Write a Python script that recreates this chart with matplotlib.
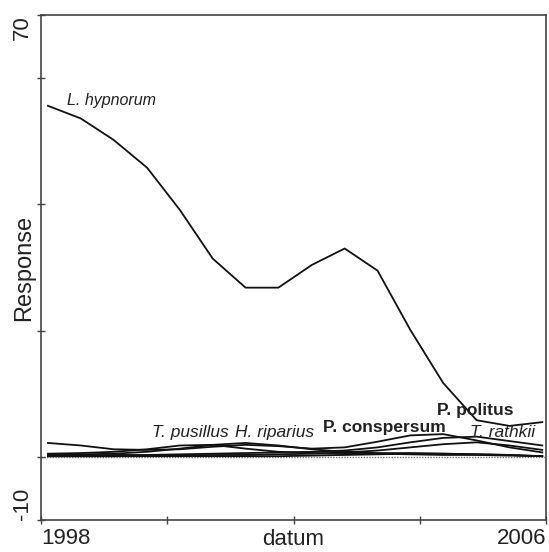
import matplotlib.pyplot as plt

plt.rcParams['font.family'] = ['Liberation Sans', 'DejaVu Sans']

# sampling dates (decimal years)
datum = [1998.11, 1998.63, 1999.15, 1999.68, 2000.20, 2000.72, 2001.24, 2001.76,
         2002.29, 2002.81, 2003.33, 2003.85, 2004.37, 2004.90, 2005.42, 2005.94]

# fitted responses per species
l_hypnorum = [55.6, 53.6, 50.2, 45.8, 39.1, 31.4, 26.8, 26.8,
              30.4, 33.0, 29.5, 20.1, 11.7, 5.8, 4.9, 5.5]
p_conspersum = [2.2, 1.8, 1.2, 1.1, 1.2, 1.6, 1.9, 1.7,
                1.3, 1.5, 2.4, 3.4, 3.6, 2.6, 1.5, 0.7]
t_pusillus = [0.5, 0.6, 0.8, 1.2, 1.8, 1.9, 1.3, 0.8,
              0.6, 0.5, 0.5, 0.4, 0.3, 0.3, 0.2, 0.1]
h_riparius = [0.3, 0.4, 0.5, 0.8, 1.3, 1.9, 2.2, 1.8,
              1.2, 0.8, 0.6, 0.6, 0.5, 0.4, 0.3, 0.1]
p_politus = [0.2, 0.2, 0.3, 0.3, 0.4, 0.5, 0.6, 0.7,
             0.8, 1.0, 1.5, 2.3, 3.0, 3.2, 2.5, 1.8]
t_rathkii = [0.1, 0.1, 0.1, 0.2, 0.2, 0.3, 0.3, 0.4,
             0.5, 0.7, 1.0, 1.5, 2.0, 2.3, 1.8, 1.1]
other = [0.1, 0.1, 0.1, 0.1, 0.1, 0.1, 0.1, 0.1,
         0.2, 0.3, 0.4, 0.5, 0.5, 0.4, 0.3, 0.1]

series = [l_hypnorum, p_conspersum, t_pusillus, h_riparius, p_politus, t_rathkii, other]

# species labels: (text, x, y, style, weight, size)
labels = [
    ("L. hypnorum", 1998.41, 56.5, "italic", "normal", 11.5),
    ("T. pusillus", 1999.76, 3.9, "italic", "normal", 12.5),
    ("H. riparius", 2001.07, 3.9, "italic", "normal", 12.5),
    ("P. conspersum", 2002.47, 4.7, "normal", "bold", 12.5),
    ("P. politus", 2004.28, 7.4, "normal", "bold", 12.5),
    ("T. rathkii", 2004.80, 3.9, "italic", "normal", 12.5),
]

fig = plt.figure(figsize=(5.49, 5.52), dpi=100)
ax = fig.add_axes([0.0747, 0.058, 0.92, 0.915])

ax.axhline(0, color="#777777", lw=1.0, ls=(0, (1, 1)), zorder=1)
for s in series:
    ax.plot(datum, s, color="#111111", lw=1.3, zorder=2)

for txt, x, y, st, wt, fs in labels:
    ax.text(x, y, txt, fontsize=fs, style=st, weight=wt, color="#222222",
            ha="left", va="center", zorder=3)

ax.set_xlim(1998, 2006)
ax.set_ylim(-10, 70)

ax.set_xticks([1998, 2000, 2002, 2004, 2006])
ax.set_xticklabels(["1998", "", "", "", "2006"], fontsize=16, color="#222222")
xt = ax.get_xticklabels()
xt[0].set_ha("left")
xt[-1].set_ha("right")

ax.set_yticks([-10, 0, 20, 40, 60, 70])
ax.set_yticklabels(["-10", "", "", "", "", "70"], fontsize=16, rotation=90,
                   color="#222222")
yt = ax.get_yticklabels()
yt[0].set_va("bottom")
yt[-1].set_va("top")

ax.tick_params(direction="inout", length=6, width=1.0, color="#444444", pad=3)

ax.set_xlabel("datum", fontsize=16, color="#222222")
ax.xaxis.set_label_coords(0.5, -0.018)
ax.set_ylabel("Response", fontsize=17, color="#222222")
ax.yaxis.set_label_coords(-0.012, 0.5)

for sp in ax.spines.values():
    sp.set_color("#444444")
    sp.set_linewidth(1.2)

fig.savefig("out.png", dpi=100)
